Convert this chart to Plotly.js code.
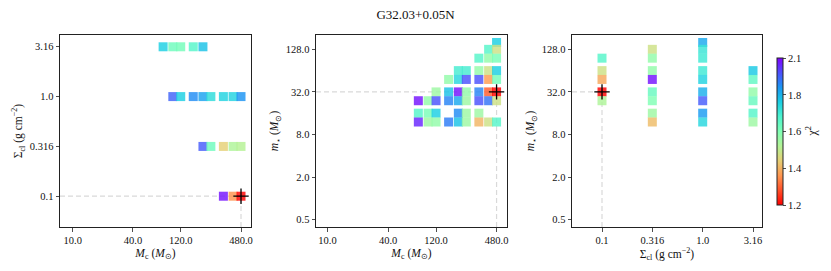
<!DOCTYPE html>
<html>
<head>
<meta charset="utf-8">
<script src="https://cdn.plot.ly/plotly-3.0.1.min.js"></script>
<style>html,body{margin:0;padding:0;background:#fff;}#chart{width:831px;height:271px;}</style>
</head>
<body>
<div id="chart"></div>
<script>
// ---- Panel 1: Mc vs Sigma_cl ----
const p1Mc    = [80,100,120,160,200, 100,120,160,200,240,320,400,480, 200,240,320,400,480, 320,400,480];
const p1Sigma = [3.16,3.16,3.16,3.16,3.16, 1.0,1.0,1.0,1.0,1.0,1.0,1.0,1.0, 0.316,0.316,0.316,0.316,0.316, 0.1,0.1,0.1];
const p1Chi   = [1.80,1.66,1.65,1.70,1.82, 1.95,1.80,1.90,1.87,1.77,1.79,1.79,1.89, 1.96,1.66,1.46,1.55,1.54, 2.04,1.37,1.20];

// ---- Panel 2: Mc vs m* ----
const p2Mc    = [480, 400,480, 320,400,480, 200,240,320,400,480, 160,200,240,320,400,480,
                 120,160,200,240,320,400,480, 80,100,120,160,200,240,320,400,480,
                 80,100,120,200,240,320, 80,100,120,160,200,240,320,400,480];
const p2Mstar = [160, 128,128, 96,96,96, 64,64,64,64,64, 48,48,48,48,48,48,
                 32,32,32,32,32,32,32, 24,24,24,24,24,24,24,24,24,
                 16,16,16,16,16,16, 12,12,12,12,12,12,12,12,12];
const p2Chi   = [1.80, 1.70,1.50, 1.70,1.60,1.64, 1.73,1.73,1.60,1.50,1.80, 1.60,1.78,1.97,1.97,1.38,1.65,
                 1.58,1.82,2.04,1.60,1.91,1.30,1.20, 2.04,1.60,1.97,1.91,1.86,1.58,1.97,1.93,1.50,
                 1.70,1.64,1.80,1.90,1.58,1.58, 2.02,1.58,1.60,1.92,1.82,1.58,1.42,1.50,1.70];

// ---- Panel 3: Sigma_cl vs m* ----
const p3Sigma = [0.1,0.1,0.1,0.1,0.1, 0.316,0.316,0.316,0.316,0.316,0.316,0.316,0.316,
                 1.0,1.0,1.0,1.0,1.0,1.0,1.0,1.0,1.0, 3.16,3.16,3.16,3.16,3.16,3.16];
const p3Mstar = [96,64,48,32,24, 128,96,64,48,32,24,16,12,
                 160,128,96,64,48,32,24,16,12, 64,48,32,24,16,12];
const p3Chi   = [1.70,1.50,1.40,1.20,1.55, 1.50,1.60,1.60,2.04,1.67,1.63,1.58,1.43,
                 1.86,1.75,1.74,1.74,1.79,1.85,1.96,1.88,1.78, 1.81,1.68,1.60,1.67,1.70,1.58];

// tick labels
const mcTicks = [10, 40, 120, 480];
const mcText = ['10.0','40.0','120.0','480.0'];
const sigTicks = [0.1, 0.316, 1.0, 3.16];
const sigText = ['0.1','0.316','1.0','3.16'];
const msTicks = [0.5, 2, 8, 32, 128];
const msText = ['0.5','2.0','8.0','32.0','128.0'];
const cbTicks = [1.2, 1.415, 1.63, 1.845, 2.06];
const cbText = ['1.2','1.4','1.6','1.8','2.1'];

const FONT = 'Liberation Serif, Times New Roman, serif';
const W = 831, H = 271;

function argmin(a){ let k=0; for(let i=1;i<a.length;i++) if(a[i]<a[k]) k=i; return k; }

const rX1 = [0.873, 2.781], rY1 = [-1.309, 0.618];
const rX2 = [0.885, 2.785], rY2 = [-0.406, 2.31];
const rX3 = [-1.298, 0.589], rY3 = [-0.406, 2.31];

const colorscale = [
  [0.0,'rgb(255,0,0)'],[0.1,'rgb(255,79,40)'],[0.2,'rgb(255,150,79)'],[0.3,'rgb(230,206,116)'],
  [0.4,'rgb(179,243,150)'],[0.5,'rgb(128,255,180)'],[0.6,'rgb(77,243,206)'],[0.7,'rgb(26,206,227)'],
  [0.8,'rgb(26,150,243)'],[0.9,'rgb(77,79,252)'],[1.0,'rgb(128,0,255)']
];

const traces = [];
function panel(xs, ys, cs, xa, ya, rx, ry){
  const k = argmin(cs);
  const bx = xs[k], by = ys[k];
  traces.push({type:'scatter', mode:'lines', xaxis:xa, yaxis:ya, hoverinfo:'skip', showlegend:false,
    x:[Math.pow(10,rx[0]), bx, null, bx, bx], y:[by, by, null, Math.pow(10,ry[0]), by],
    line:{color:'#d9d9d9', width:1.2, dash:'5px,3px'}});
  traces.push({type:'scatter', mode:'markers', xaxis:xa, yaxis:ya, showlegend:false,
    x:xs, y:ys, marker:{symbol:'square', size:9, color:cs, coloraxis:'coloraxis', opacity:0.82, line:{width:0}}});
  traces.push({type:'scatter', mode:'markers', xaxis:xa, yaxis:ya, showlegend:false,
    x:[bx], y:[by], marker:{symbol:'cross-thin', size:11, color:'black', line:{color:'black', width:1.3}}});
}
panel(p1Mc, p1Sigma, p1Chi, 'x', 'y', rX1, rY1);
panel(p2Mc, p2Mstar, p2Chi, 'x2', 'y2', rX2, rY2);
panel(p3Sigma, p3Mstar, p3Chi, 'x3', 'y3', rX3, rY3);

const yDom = [44/H, 236/H];
function ax(range, dom, tv, tt, title, anchor, stand){
  return {type:'log', range:range, domain:dom, anchor:anchor, tickvals:tv, ticktext:tt,
    showgrid:false, zeroline:false, showline:true, mirror:true, linecolor:'#222', linewidth:1,
    ticks:'outside', ticklen:3.5, tickwidth:0.8, tickcolor:'#222',
    tickfont:{family:FONT, size:10.5, color:'#111'},
    title:{text:title, font:{family:FONT, size:11.5, color:'#111'}, standoff:stand}};
}
const mcTitle = '<i>M</i><sub>c</sub> (<i>M</i><sub>⊙</sub>)';
const sigTitle = 'Σ<sub>cl</sub> (g cm<sup>−2</sup>)';
const msTitle = '<i>m</i><sub>⋆</sub> (<i>M</i><sub>⊙</sub>)';

const layout = {
  width:W, height:H, margin:{l:0,r:0,t:0,b:0}, paper_bgcolor:'white', plot_bgcolor:'white',
  font:{family:FONT, color:'#111'},
  title:{text:'G32.03+0.05N', x:0.5, xanchor:'center', y:1-14/H, yanchor:'middle', yref:'container',
    font:{family:FONT, size:13, color:'#111'}},
  xaxis: ax(rX1, [60/W, 251/W], mcTicks, mcText, mcTitle, 'y', 3),
  yaxis: ax(rY1, yDom, sigTicks, sigText, sigTitle, 'x', 4),
  xaxis2: ax(rX2, [316/W, 507/W], mcTicks, mcText, mcTitle, 'y2', 3),
  yaxis2: ax(rY2, yDom, msTicks, msText, msTitle, 'x2', 4),
  xaxis3: ax(rX3, [572/W, 762/W], sigTicks, sigText, sigTitle, 'y3', 3),
  yaxis3: ax(rY3, yDom, msTicks, msText, msTitle, 'x3', 4),
  coloraxis:{cmin:1.2, cmax:2.06, colorscale:colorscale, showscale:true,
    colorbar:{x:776.7/W, xanchor:'left', y:(H-131.6)/H, yanchor:'middle', len:146.7/H, lenmode:'fraction',
      thickness:6, thicknessmode:'pixels', xpad:0, ypad:0, outlinewidth:1, outlinecolor:'#222',
      ticks:'outside', ticklen:3, tickwidth:0.8, tickcolor:'#222',
      tickvals:cbTicks, ticktext:cbText, tickfont:{family:FONT, size:10.5, color:'#111'}}},
  annotations:[{text:'χ<sup>2</sup>', xref:'paper', yref:'paper', x:812/W, y:(H-131.6)/H,
    xanchor:'center', yanchor:'middle', textangle:-90, showarrow:false,
    font:{family:FONT, size:12, color:'#111'}}]
};

Plotly.newPlot('chart', traces, layout, {staticPlot:true, displayModeBar:false});
</script>
</body>
</html>
